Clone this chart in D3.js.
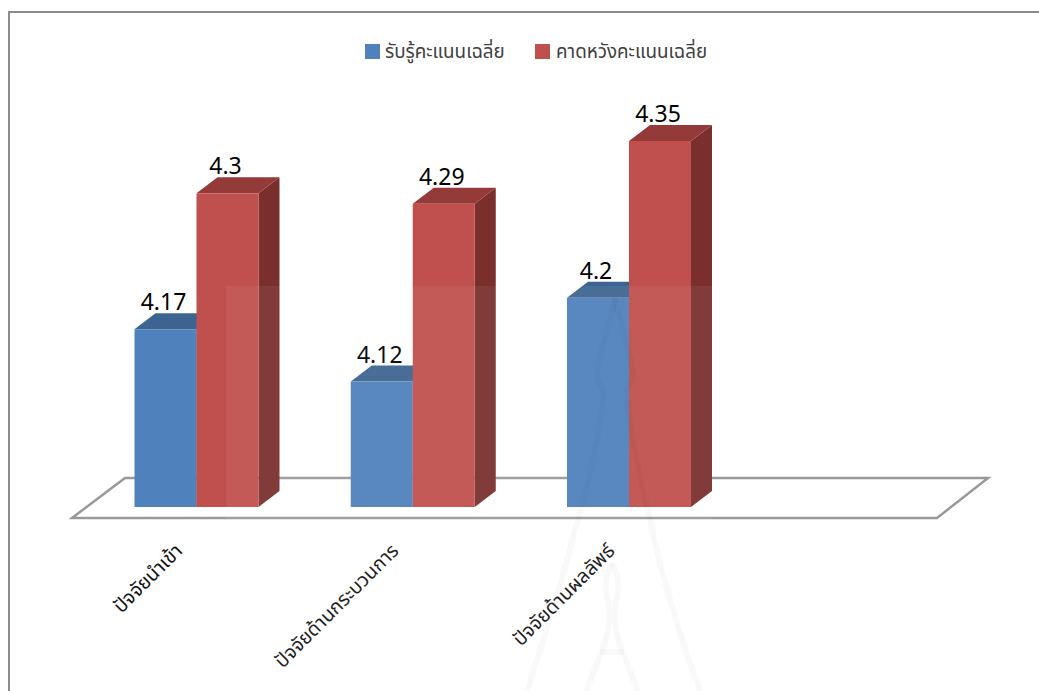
<!DOCTYPE html>
<html><head><meta charset="utf-8">
<script src="https://cdn.jsdelivr.net/npm/d3@7"></script>
<style>
html,body{margin:0;padding:0;background:#fff;overflow:hidden}
svg{display:block}
text{font-family:"Noto Sans","Noto Sans Thai","DejaVu Sans",sans-serif}
</style></head><body>
<svg id="c" width="1039" height="691"></svg>
<script>
const categories = ["ปัจจัยนำเข้า","ปัจจัยด้านกระบวนการ","ปัจจัยด้านผลลัพธ์",""];
const seriesNames = ["รับรู้คะแนนเฉลี่ย","คาดหวังคะแนนเฉลี่ย"];
const perceived = [4.17,4.12,4.2];
const expected = [4.3,4.29,4.35];
const yDomain = [4,4.35];
const front = ["#4f81bd","#c0504d"], topC = ["#3d6491","#943a38"], side = ["#2f4f73","#7a2f2d"];
const svg = d3.select("#c");
svg.append("path").attr("d","M9,691V12H1039").attr("fill","none").attr("stroke","#8c8c8c").attr("stroke-width",2);
const depthX = 21, depthY = 16;
const x0 = d3.scaleBand().domain(categories).range([88.5,953.5]);
const x1 = d3.scaleBand().domain([0,1]).range([46,170]);
const y = d3.scaleLinear().domain(yDomain).range([507,141]);
const fl=[[72,518],[125,478],[988,478],[937,518]];
svg.append("path").attr("d",d3.line()(fl)+"Z").attr("fill","none").attr("stroke","#999").attr("stroke-width",2.5);
const rows = [perceived,expected];
categories.slice(0,3).forEach((c,i)=>{
  rows.forEach((r,s)=>{
    const a=x0(c)+x1(s), w=x1.bandwidth(), t=y(r[i]), b=y(yDomain[0]);
    const g=svg.append("g");
    g.append("path").attr("d",`M${a+w},${t}l${depthX},${-depthY}V${b-depthY}L${a+w},${b}Z`).attr("fill",side[s]);
    g.append("path").attr("d",`M${a},${t}l${depthX},${-depthY}h${w}l${-depthX},${depthY}Z`).attr("fill",topC[s]);
    g.append("rect").attr("x",a).attr("y",t).attr("width",w).attr("height",b-t).attr("fill",front[s]);
    svg.append("text").attr("x",a+w/2-2).attr("y",t-depthY-3).attr("text-anchor","middle").attr("font-size",23).attr("fill","#000").text(r[i]);
  });
});
categories.slice(0,3).forEach(c=>{
  svg.append("text").attr("transform",`translate(${x0(c)+95},552) rotate(-45)`).attr("text-anchor","end").attr("font-size",19.4).attr("fill","#111").text(c);
});
[[365,385,seriesNames[0]],[535,556,seriesNames[1]]].forEach(([sx,tx,n],i)=>{
  svg.append("rect").attr("x",sx).attr("y",44).attr("width",15).attr("height",15).attr("fill",front[i]);
  svg.append("text").attr("x",tx).attr("y",58).attr("font-size",18.8).attr("fill","#404040").text(n);
});
// faint page watermark over the chart
const wm=svg.append("g").attr("pointer-events","none");
wm.append("rect").attr("x",226).attr("y",286).attr("width",486).attr("height",405).attr("fill","#fff").attr("opacity",0.06);
const tower=[
 "M615,298C609,325 601,350 597,372C596,380 601,386 604,392C600,430 590,480 575,530C560,590 540,650 527,691",
 "M615,298C621,325 629,350 633,372C634,380 629,386 626,392C630,430 638,470 650,520C665,590 685,650 700,691",
 "M612,563C607,572 605,582 606,590C607,598 609,604 609,615C609,630 605,645 600,655C595,670 590,680 586,691",
 "M612,563C617,572 619,582 618,590C617,598 615,604 615,615C615,630 619,645 624,655C629,670 634,680 638,691",
 "M600,652H624"];
wm.selectAll("path").data(tower).join("path").attr("d",d=>d).attr("fill","none").attr("stroke","#000").attr("stroke-opacity",0.025).attr("stroke-width",6);
</script></body></html>
